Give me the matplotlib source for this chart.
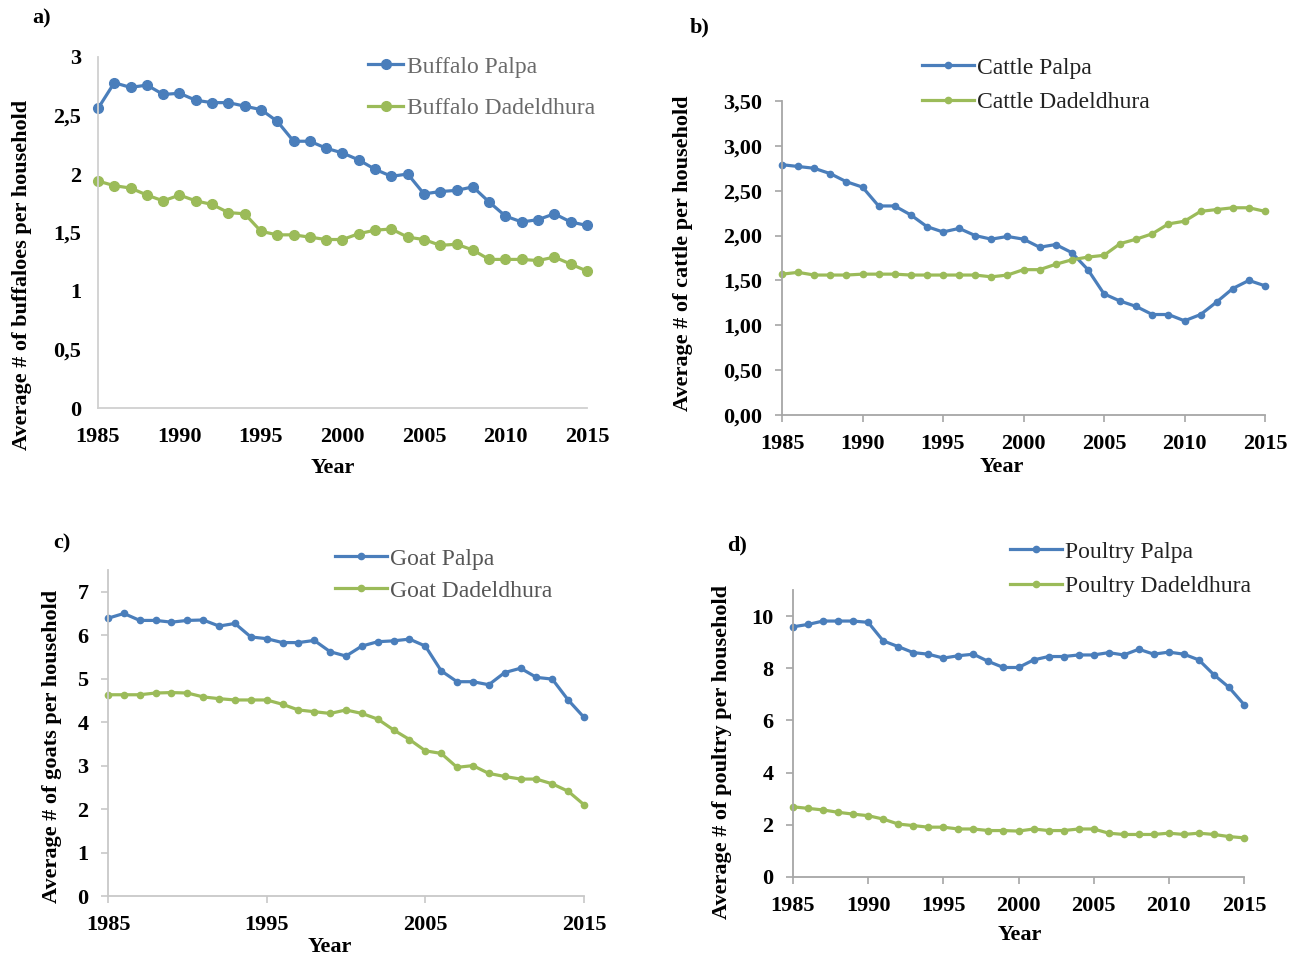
import numpy as np
import matplotlib
matplotlib.use("Agg")
import matplotlib.pyplot as plt
from matplotlib.ticker import FixedLocator, FuncFormatter

plt.rcParams['font.family'] = ['Liberation Serif', 'DejaVu Serif']

# data
years = np.arange(1985, 2016)

buffalo_palpa = [2.56, 2.78, 2.74, 2.76, 2.68, 2.69, 2.63, 2.61, 2.61, 2.58, 2.55,
                 2.45, 2.28, 2.28, 2.22, 2.18, 2.12, 2.04, 1.98, 2.00, 1.83,
                 1.85, 1.86, 1.89, 1.76, 1.64, 1.59, 1.61, 1.66, 1.59, 1.56]
buffalo_dadeldhura = [1.94, 1.90, 1.88, 1.82, 1.77, 1.82, 1.77, 1.74, 1.67, 1.66, 1.51,
                      1.48, 1.48, 1.46, 1.44, 1.44, 1.49, 1.52, 1.53, 1.46, 1.44,
                      1.39, 1.40, 1.35, 1.27, 1.27, 1.27, 1.26, 1.29, 1.23, 1.17]

cattle_palpa = [2.79, 2.77, 2.75, 2.69, 2.60, 2.54, 2.33, 2.33, 2.23, 2.10, 2.04,
                2.08, 2.00, 1.96, 1.99, 1.96, 1.87, 1.90, 1.81, 1.62, 1.35,
                1.27, 1.21, 1.12, 1.12, 1.05, 1.12, 1.26, 1.41, 1.50, 1.44]
cattle_dadeldhura = [1.57, 1.59, 1.56, 1.56, 1.56, 1.57, 1.57, 1.57, 1.56, 1.56, 1.56,
                     1.56, 1.56, 1.54, 1.56, 1.62, 1.62, 1.68, 1.73, 1.76, 1.78,
                     1.91, 1.96, 2.02, 2.13, 2.16, 2.27, 2.29, 2.31, 2.31, 2.27]

goat_palpa = [6.39, 6.50, 6.34, 6.34, 6.30, 6.34, 6.35, 6.21, 6.27, 5.96, 5.92,
              5.83, 5.83, 5.88, 5.62, 5.52, 5.75, 5.85, 5.87, 5.91, 5.75,
              5.18, 4.93, 4.93, 4.86, 5.14, 5.24, 5.03, 4.99, 4.51, 4.11]
goat_dadeldhura = [4.63, 4.63, 4.63, 4.67, 4.68, 4.67, 4.58, 4.54, 4.51, 4.51, 4.51,
                   4.41, 4.28, 4.24, 4.20, 4.28, 4.20, 4.07, 3.82, 3.60, 3.34,
                   3.28, 2.96, 3.00, 2.82, 2.75, 2.69, 2.69, 2.58, 2.41, 2.10]

poultry_palpa = [9.59, 9.68, 9.81, 9.81, 9.81, 9.76, 9.05, 8.83, 8.60, 8.54, 8.39,
                 8.48, 8.54, 8.26, 8.03, 8.03, 8.32, 8.45, 8.45, 8.51, 8.51,
                 8.60, 8.51, 8.73, 8.54, 8.62, 8.54, 8.32, 7.75, 7.27, 6.61]
poultry_dadeldhura = [2.69, 2.63, 2.57, 2.48, 2.41, 2.35, 2.22, 2.03, 1.97, 1.91, 1.91,
                      1.84, 1.84, 1.78, 1.78, 1.76, 1.84, 1.78, 1.78, 1.84, 1.84,
                      1.68, 1.63, 1.63, 1.63, 1.68, 1.63, 1.68, 1.63, 1.55, 1.50]

BLUE = '#4a7ebb'
GREEN = '#9bbb59'
W, H = 1304, 961

fig = plt.figure(figsize=(W / 100, H / 100), dpi=100)


def px_axes(left, top, right, bottom):
    return fig.add_axes([left / W, 1 - bottom / H, (right - left) / W, (bottom - top) / H])


def ftext(x, y, s, **kw):
    fig.text(x / W, 1 - y / H, s, **kw)


def style(ax, spine_col, ticklen):
    for s in ['top', 'right']:
        ax.spines[s].set_visible(False)
    for s in ['left', 'bottom']:
        ax.spines[s].set_color(spine_col)
        ax.spines[s].set_linewidth(1.3)
    ax.tick_params(length=ticklen, width=1.2, color=spine_col, direction='out',
                   labelsize=16, pad=9)
    for lab in ax.get_xticklabels() + ax.get_yticklabels():
        lab.set_fontweight('bold')
    ax.set_xlim(1985, 2015)


def draw(ax, a, b, names, ms, lw):
    ax.plot(years, a, color=BLUE, marker='o', ms=ms, lw=lw, clip_on=False, label=names[0])
    ax.plot(years, b, color=GREEN, marker='o', ms=ms, lw=lw, clip_on=False, label=names[1])


def legend(ax, x, y, hl, sp, col):
    leg = ax.legend(loc='upper left', bbox_to_anchor=(x / W, 1 - y / H),
                    bbox_transform=fig.transFigure, frameon=False, fontsize=17,
                    handlelength=hl, handletextpad=0.15, labelspacing=sp,
                    borderpad=0, borderaxespad=0)
    for t in leg.get_texts():
        t.set_color(col)


# a) buffaloes
ax = px_axes(98, 57, 587, 408)
draw(ax, buffalo_palpa, buffalo_dadeldhura, ['Buffalo Palpa', 'Buffalo Dadeldhura'], 7, 2.3)
ax.set_ylim(0, 3)
ax.yaxis.set_major_locator(FixedLocator(np.arange(0, 3.01, 0.5)))
ax.yaxis.set_major_formatter(FuncFormatter(lambda v, p: ('%g' % v).replace('.', ',')))
ax.set_xticks(np.arange(1985, 2016, 5))
style(ax, '#d0d0d0', 0)
ax.tick_params(axis='x', pad=14)
ax.tick_params(axis='y', pad=12)
legend(ax, 368, 56, 1.5, 0.85, '#6a6a6a')

# b) cattle
ax = px_axes(782, 101, 1265, 415)
draw(ax, cattle_palpa, cattle_dadeldhura, ['Cattle Palpa', 'Cattle Dadeldhura'], 4.5, 2.3)
ax.set_ylim(0, 3.5)
ax.yaxis.set_major_locator(FixedLocator(np.arange(0, 3.51, 0.5)))
ax.yaxis.set_major_formatter(FuncFormatter(lambda v, p: ('%.2f' % v).replace('.', ',')))
ax.set_xticks(np.arange(1985, 2016, 5))
style(ax, '#a6a6a6', 5)
legend(ax, 922, 57, 2.2, 0.55, '#222222')

# c) goats
ax = px_axes(108, 570, 584, 896)
draw(ax, goat_palpa, goat_dadeldhura, ['Goat Palpa', 'Goat Dadeldhura'], 4.5, 2.3)
ax.set_ylim(0, 7.5)
ax.yaxis.set_major_locator(FixedLocator(np.arange(0, 8, 1)))
ax.set_xticks(np.arange(1985, 2016, 10))
style(ax, '#c8c8c8', 5)
legend(ax, 335, 548, 2.2, 0.45, '#555555')

# d) poultry
ax = px_axes(793, 590, 1244, 877)
draw(ax, poultry_palpa, poultry_dadeldhura, ['Poultry Palpa', 'Poultry Dadeldhura'], 4.5, 2.3)
ax.set_ylim(0, 11)
ax.yaxis.set_major_locator(FixedLocator(np.arange(0, 11, 2)))
ax.set_xticks(np.arange(1985, 2016, 5))
style(ax, '#a6a6a6', 5)
legend(ax, 1010, 541, 2.2, 0.55, '#222222')

# axis titles and panel letters
lab = dict(fontsize=16, fontweight='bold', ha='center', va='center')
ftext(22, 275, 'Average # of buffaloes per household', rotation=90, **lab)
ftext(683, 253, 'Average # of cattle per household', rotation=90, **lab)
ftext(52, 746, 'Average # of goats per household', rotation=90, **lab)
ftext(722, 752, 'Average # of poultry per household', rotation=90, **lab)
ftext(333, 468, 'Year', **lab)
ftext(1002, 467, 'Year', **lab)
ftext(330, 947, 'Year', **lab)
ftext(1020, 935, 'Year', **lab)
ftext(42, 18, 'a)', **lab)
ftext(700, 27, 'b)', **lab)
ftext(62, 543, 'c)', **lab)
ftext(737, 545, 'd)', **lab)

fig.savefig('out.png', dpi=100)
